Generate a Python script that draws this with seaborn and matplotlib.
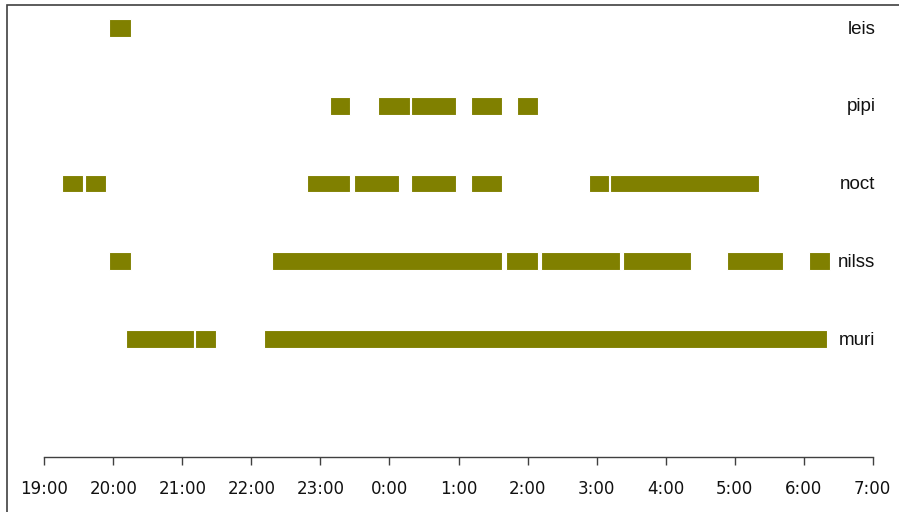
import matplotlib
matplotlib.use("Agg")
import matplotlib.pyplot as plt
import seaborn as sns
import pandas as pd
from matplotlib.patches import Rectangle

# ---- data (start / end clock times of each activity segment) ----
species = ["leis", "pipi", "noct", "nilss", "muri"]

leis_start = ["19:56"]
leis_end = ["20:15"]

pipi_start = ["23:08", "23:50", "0:19", "1:11", "1:51"]
pipi_end = ["23:26", "0:18", "0:58", "1:38", "2:09"]

noct_start = ["19:15", "19:35", "22:48", "23:29", "0:19", "1:11", "2:53", "3:12"]
noct_end = ["19:34", "19:54", "23:26", "0:08", "0:58", "1:38", "3:11", "5:21"]

nilss_start = ["19:56", "22:18", "1:41", "2:12", "3:23", "4:53", "6:05"]
nilss_end = ["20:15", "1:38", "2:09", "3:20", "4:22", "5:42", "6:23"]

muri_start = ["20:11", "21:11", "22:11"]
muri_end = ["21:10", "21:29", "6:20"]

tick_labels = ["19:00", "20:00", "21:00", "22:00", "23:00", "0:00", "1:00",
               "2:00", "3:00", "4:00", "5:00", "6:00", "7:00"]


def to_hours(t):
    """hours elapsed since 19:00"""
    h, m = (int(v) for v in t.split(":"))
    x = h + m / 60.0 - 19
    if x < 0:
        x += 24
    return x


rows = []
for name, st, en in [("leis", leis_start, leis_end), ("pipi", pipi_start, pipi_end),
                     ("noct", noct_start, noct_end), ("nilss", nilss_start, nilss_end),
                     ("muri", muri_start, muri_end)]:
    for s, e in zip(st, en):
        rows.append({"species": name, "start": to_hours(s), "end": to_hours(e)})
df = pd.DataFrame(rows)
df["dur"] = df["end"] - df["start"]

sns.set_theme(style="white")
plt.rcParams["font.family"] = ["DejaVu Sans"]

W, H = 899, 512
fig = plt.figure(figsize=(W / 100, H / 100), dpi=100)
ax = fig.add_axes([44.3 / W, 1 - 457.3 / H, (872.7 - 44.3) / W, (457.3 - 5) / H])

ypos = {"leis": 5, "pipi": 4, "noct": 3, "nilss": 2, "muri": 1}
bar_h = 0.228
olive = "#808000"
for name in species:
    sub = df[df["species"] == name]
    ax.broken_barh(list(zip(sub["start"], sub["dur"])), (ypos[name] - bar_h / 2, bar_h),
                   facecolors=olive, edgecolor="white", linewidth=0.8)
    ax.text(12.04, ypos[name] - 0.015, name, ha="right", va="center",
            fontsize=13.5, family=["Liberation Sans"], color="#111111", clip_on=False)

ax.set_xlim(0, 12)
ax.set_ylim(-0.5216, 5.296)
ax.set_xticks(range(len(tick_labels)))
ax.set_xticklabels(tick_labels, fontsize=12, color="#111111")
ax.set_yticks([])
ax.tick_params(axis="x", direction="out", length=6, width=1, color="#404040",
               bottom=True, pad=10)
sns.despine(ax=ax, left=True, top=True, right=True)
ax.spines["bottom"].set_color("#404040")
ax.spines["bottom"].set_linewidth(1)

# outer chart-area frame (left and top edges visible)
fig.patches.append(Rectangle((7 / W, -0.2), 1.2, 1 - 5 / H + 0.2,
                             transform=fig.transFigure, fill=False,
                             edgecolor="#404040", linewidth=1.2))

fig.savefig("out.png", dpi=100)
